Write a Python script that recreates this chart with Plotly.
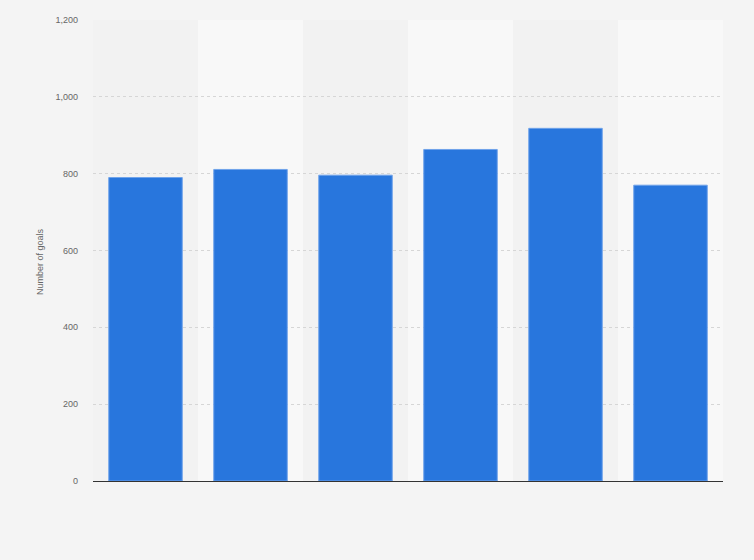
import plotly.graph_objects as go

seasons = ['2016/17', '2017/18', '2018/19', '2019/20', '2020/21', '2021/22']
goals = [790, 811, 796, 863, 918, 770]

fig = go.Figure()
fig.add_trace(go.Bar(
    x=seasons, y=goals,
    marker=dict(color='#2876dd', line=dict(color='#6fa3ea', width=1)),
    width=0.7,
))

# alternating column bands
for i in range(len(seasons)):
    fig.add_shape(type='rect', xref='x', yref='paper',
                  x0=i - 0.5, x1=i + 0.5, y0=0, y1=1,
                  fillcolor='#f2f2f2' if i % 2 == 0 else '#f8f8f8',
                  line=dict(width=0), layer='below')

# axis title as annotation so it can sit where the original does
fig.add_annotation(text='Number of goals', xref='paper', yref='paper',
                   x=-0.084, y=0.475, textangle=-90, showarrow=False,
                   xanchor='center', yanchor='middle',
                   font=dict(size=9, color='#666'))

fig.update_layout(
    width=754, height=560,
    margin=dict(l=93, r=31, t=20, b=79),
    paper_bgcolor='#f4f4f4', plot_bgcolor='#f4f4f4',
    font=dict(family='Liberation Sans, Arial', size=9, color='#666'),
    showlegend=False, bargap=0.3,
)
fig.update_xaxes(showticklabels=False, showgrid=False, range=[-0.5, 5.5],
                 showline=True, linecolor='#333', linewidth=1, ticks='')
fig.update_yaxes(range=[0, 1200], tickvals=[0, 200, 400, 600, 800, 1000, 1200],
                 tickformat=',', showgrid=True, gridcolor='#d6d6d6', griddash='dot',
                 gridwidth=1, zeroline=False, ticks='', ticklabelstandoff=14)

# drop the default page margin so the figure fills the window
fig.write_html('out.html', config={'displayModeBar': False},
               post_script="document.body.style.margin='0';"
                           "document.body.style.background='#f4f4f4';")
